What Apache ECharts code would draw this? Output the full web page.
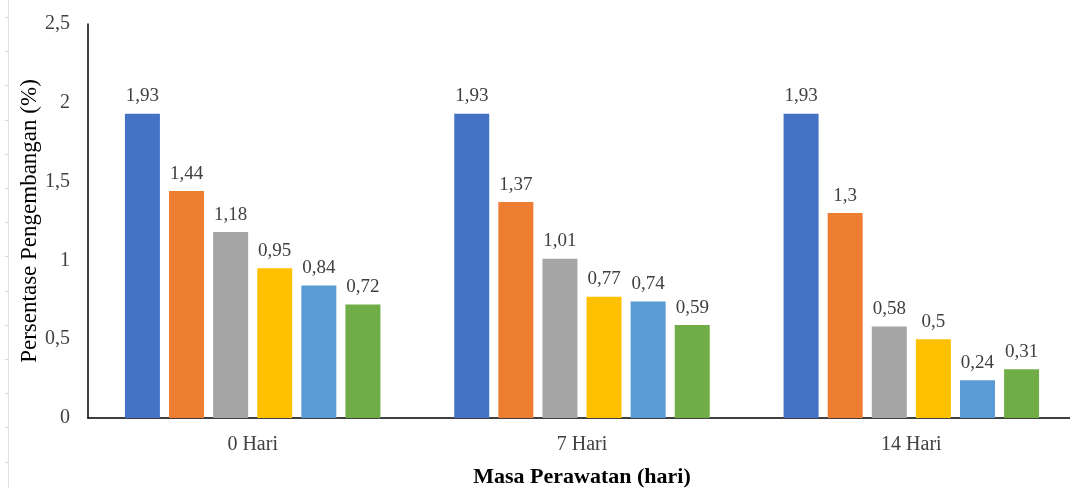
<!DOCTYPE html>
<html>
<head>
<meta charset="utf-8">
<script src="https://cdn.jsdelivr.net/npm/echarts@6/dist/echarts.min.js"></script>
<style>
  html, body { margin: 0; padding: 0; background: #fff; }
  #chart { width: 1070px; height: 488px; }
</style>
</head>
<body>
<div id="chart"></div>
<script>
// Swelling percentage per curing period, six treatments each
const categories = ['0 Hari', '7 Hari', '14 Hari'];
const seriesA = [1.93, 1.93, 1.93];
const seriesB = [1.44, 1.37, 1.3];
const seriesC = [1.18, 1.01, 0.58];
const seriesD = [0.95, 0.77, 0.5];
const seriesE = [0.84, 0.74, 0.24];
const seriesF = [0.72, 0.59, 0.31];
const seriesNames = ['A', 'B', 'C', 'D', 'E', 'F'];
const colors = ['#4472C4', '#ED7D31', '#A5A5A5', '#FFC000', '#5B9BD5', '#70AD47'];

const serif = '"Liberation Serif", "DejaVu Serif", serif';
const comma = v => String(v).replace('.', ',');

const chart = echarts.init(document.getElementById('chart'), null, { renderer: 'canvas' });

const allData = [seriesA, seriesB, seriesC, seriesD, seriesE, seriesF];

// faint page ruler along the left edge
const ruler = [{
  type: 'line',
  shape: { x1: 8.5, y1: 0, x2: 8.5, y2: 488 },
  style: { stroke: '#e2e2e2', lineWidth: 1 }
}];
for (let y = 17; y < 488; y += 34.2) {
  ruler.push({
    type: 'line',
    shape: { x1: 5, y1: Math.round(y) + 0.5, x2: 8, y2: Math.round(y) + 0.5 },
    style: { stroke: '#d8d8d8', lineWidth: 1 }
  });
}

chart.setOption({
  animation: false,
  grid: { left: 88, right: -6, top: 24, bottom: 70, outerBoundsMode: 'none' },
  graphic: ruler,
  xAxis: {
    type: 'category',
    data: categories,
    name: 'Masa Perawatan (hari)',
    nameLocation: 'middle',
    nameGap: 48,
    nameMoveOverlap: false,
    nameTextStyle: { fontFamily: serif, fontSize: 22, fontWeight: 'bold', color: '#000' },
    axisLine: { lineStyle: { color: '#000', width: 1.5 } },
    axisTick: { show: false },
    axisLabel: { fontFamily: serif, fontSize: 20, color: '#404040', margin: 17 }
  },
  yAxis: {
    type: 'value',
    min: 0,
    max: 2.5,
    interval: 0.5,
    name: 'Persentase Pengembangan (%)',
    nameLocation: 'middle',
    nameGap: 47,
    nameMoveOverlap: false,
    nameTextStyle: { fontFamily: serif, fontSize: 23, color: '#000' },
    axisLine: { show: true, lineStyle: { color: '#000', width: 1.5 } },
    axisTick: { show: false },
    splitLine: { show: false },
    axisLabel: { fontFamily: serif, fontSize: 20, color: '#404040', margin: 18, formatter: comma }
  },
  series: allData.map((d, i) => ({
    name: seriesNames[i],
    type: 'bar',
    data: d,
    barWidth: 35,
    barGap: '26%',
    itemStyle: { color: colors[i] },
    label: {
      show: true,
      position: 'top',
      distance: 8,
      fontFamily: serif,
      fontSize: 19,
      color: '#404040',
      formatter: p => comma(p.value)
    }
  }))
});
</script>
</body>
</html>
